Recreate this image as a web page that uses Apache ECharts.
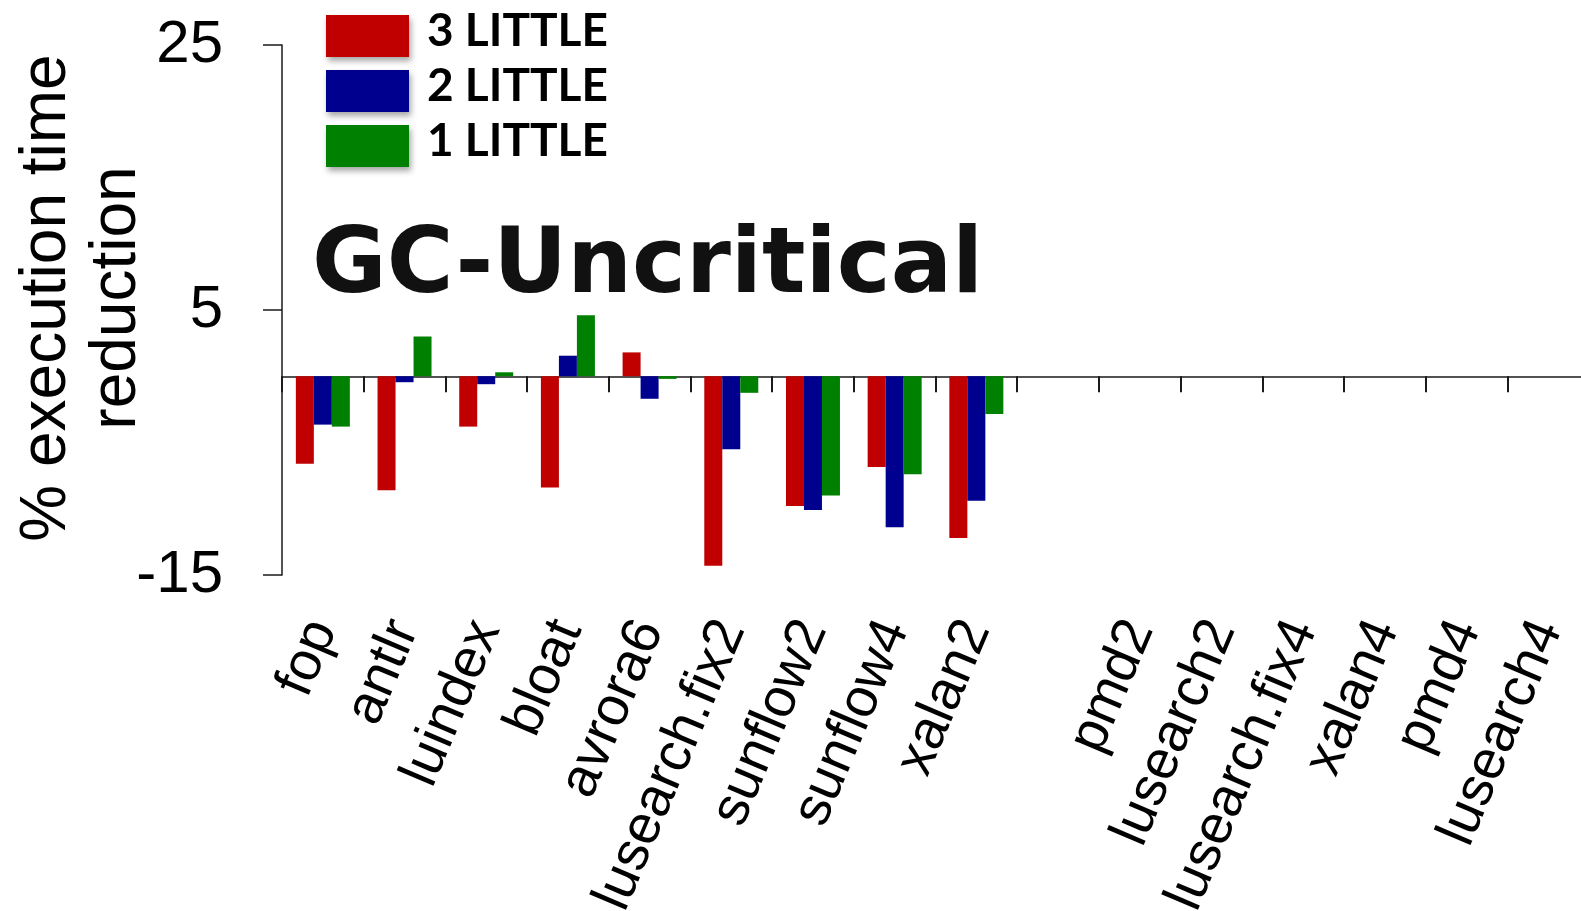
<!DOCTYPE html>
<html>
<head>
<meta charset="utf-8">
<style>
  html, body { margin: 0; padding: 0; background: #ffffff; }
  #chart { width: 1581px; height: 911px; }
</style>
<script src="https://cdn.jsdelivr.net/npm/echarts@6/dist/echarts.min.js"></script>
</head>
<body>
<div id="chart"></div>
<script>
// Benchmarks (one blank slot separates the two groups)
const categories = ['fop', 'antlr', 'luindex', 'bloat', 'avrora6', 'lusearch.fix2',
  'sunflow2', 'sunflow4', 'xalan2', '', 'pmd2', 'lusearch2', 'lusearch.fix4',
  'xalan4', 'pmd4', 'lusearch4'];

// % execution time reduction per configuration
const little3 = [-6.6, -8.6, -3.8, -8.4, 1.8, -14.3, -9.8, -6.85, -12.2,
  null, null, null, null, null, null, null];
const little2 = [-3.65, -0.45, -0.6, 1.55, -1.7, -5.5, -10.1, -11.4, -9.4,
  null, null, null, null, null, null, null];
const little1 = [-3.8, 3.0, 0.3, 4.6, -0.2, -1.25, -9.0, -7.4, -2.85,
  null, null, null, null, null, null, null];

const seriesNames = ['3 LITTLE', '2 LITTLE', '1 LITTLE'];
const seriesColors = ['#C00000', '#00008F', '#008000'];

const yMin = -15, yMax = 25, yStep = 20;

const axisColor = '#1a1a1a';
const labelFont = '"Liberation Sans", Arial, sans-serif';

const chart = echarts.init(document.getElementById('chart'));

const seriesData = [little3, little2, little1];

// Key: colour swatches with a soft drop shadow, names to the right
const keyLeft = 326, keyTop = 15, keyPitch = 55, swatchW = 83, swatchH = 42;
const keyGraphics = [];
seriesNames.forEach((name, i) => {
  const top = keyTop + i * keyPitch;
  keyGraphics.push({
    type: 'rect',
    shape: { x: keyLeft, y: top, width: swatchW, height: swatchH },
    style: {
      fill: seriesColors[i],
      shadowBlur: 6,
      shadowColor: 'rgba(0,0,0,0.35)',
      shadowOffsetX: 2,
      shadowOffsetY: 4
    }
  });
  keyGraphics.push({
    type: 'text',
    x: keyLeft + swatchW + 18,
    y: top + 16,
    style: {
      text: name,
      fontFamily: 'Lato, "Open Sans", sans-serif',
      fontWeight: 'bold',
      fontSize: 46,
      fill: '#000',
      align: 'left',
      verticalAlign: 'middle'
    }
  });
});

chart.setOption({
  animation: false,
  backgroundColor: '#ffffff',
  grid: {
    left: 282, right: -8, top: 45, bottom: 336,
    containLabel: false,
    outerBoundsMode: 'none'
  },
  xAxis: [
    {
      // axis line through zero with boundary ticks
      type: 'category',
      data: categories,
      position: 'bottom',
      axisLine: { show: true, onZero: true, lineStyle: { color: axisColor, width: 1.5 } },
      axisTick: { show: true, length: 16, interval: 0, lineStyle: { color: axisColor, width: 2 } },
      axisLabel: { show: false },
      splitLine: { show: false }
    },
    {
      // benchmark names along the bottom edge
      type: 'category',
      data: categories,
      position: 'bottom',
      axisLine: { show: false, onZero: false },
      axisTick: { show: false },
      splitLine: { show: false },
      axisLabel: {
        interval: 0,
        rotate: 67,
        margin: 48,
        fontSize: 55,
        fontFamily: labelFont,
        color: '#000'
      }
    }
  ],
  yAxis: {
    type: 'value',
    min: yMin,
    max: yMax,
    interval: yStep,
    axisLine: { show: true, lineStyle: { color: axisColor, width: 1.5 } },
    axisTick: { show: true, length: 19, lineStyle: { color: axisColor, width: 1.5 } },
    splitLine: { show: false },
    axisLabel: {
      margin: 59,
      fontSize: 60,
      fontFamily: labelFont,
      color: '#000'
    }
  },
  series: seriesNames.map((name, i) => ({
    name: name,
    type: 'bar',
    xAxisIndex: 0,
    data: seriesData[i],
    barWidth: 18,
    barGap: '0%',
    itemStyle: { color: seriesColors[i] }
  })),
  graphic: keyGraphics.concat([
    {
      type: 'text',
      x: 82,
      y: 298,
      rotation: Math.PI / 2,
      style: {
        text: '% execution time\nreduction',
        fontFamily: labelFont,
        fontSize: 64,
        lineHeight: 70,
        fill: '#000',
        align: 'center',
        verticalAlign: 'middle'
      }
    },
    {
      type: 'text',
      x: 312,
      y: 268,
      style: {
        text: 'GC-Uncritical',
        fontFamily: '"DejaVu Sans", sans-serif',
        fontWeight: 'bold',
        fontSize: 91,
        fill: '#111',
        align: 'left',
        verticalAlign: 'middle'
      }
    }
  ])
});
</script>
</body>
</html>
